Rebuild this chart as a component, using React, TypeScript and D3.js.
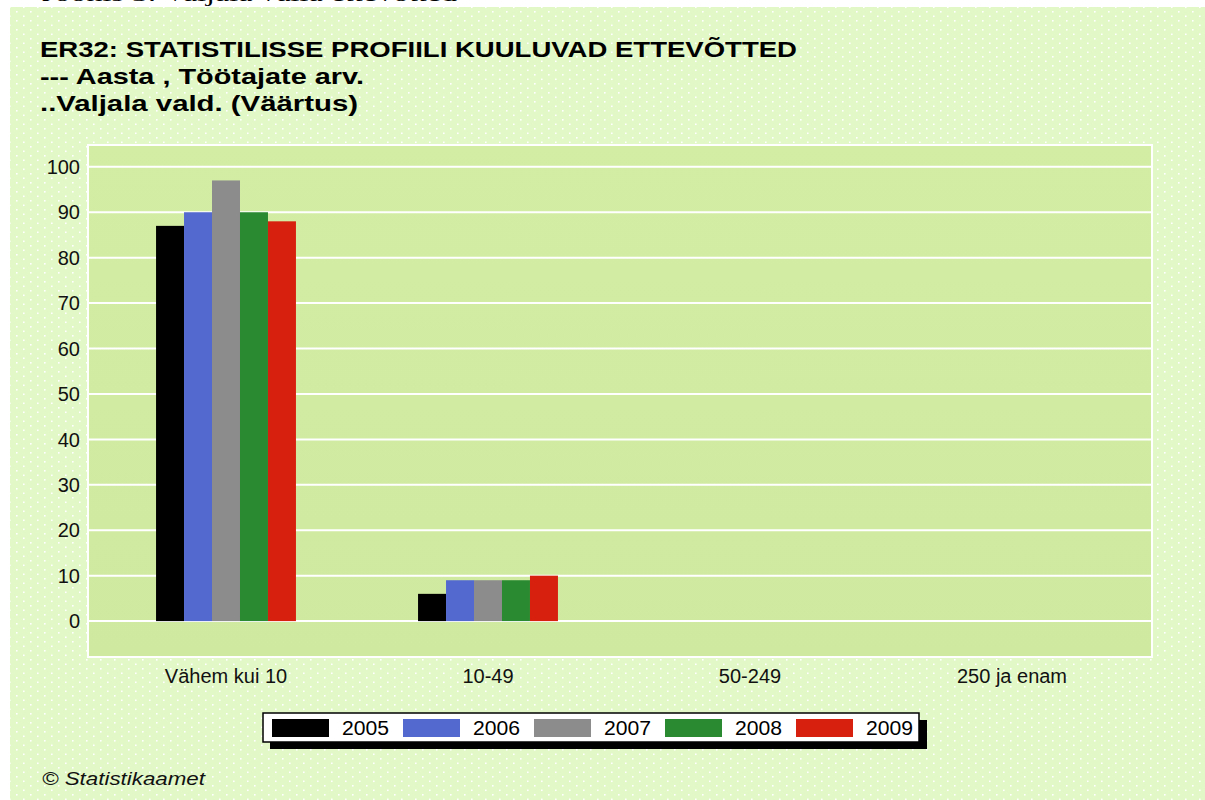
import React from 'react';
import * as d3 from 'd3';

const categories = ['Vähem kui 10', '10-49', '50-249', '250 ja enam'];
const years = ['2005', '2006', '2007', '2008', '2009'];
const values2005 = [87, 6, 0, 0];
const values2006 = [90, 9, 0, 0];
const values2007 = [97, 9, 0, 0];
const values2008 = [90, 9, 0, 0];
const values2009 = [88, 10, 0, 0];
const yTicks = [0, 10, 20, 30, 40, 50, 60, 70, 80, 90, 100];
const colors = ['#000000', '#5469d0', '#8c8c8c', '#2a8a32', '#d8200f'];
const titleLines = [
  'ER32: STATISTILISSE PROFIILI KUULUVAD ETTEVÕTTED',
  '--- Aasta , Töötajate arv.',
  '..Valjala vald. (Väärtus)',
];
// widths the title lines take in the reference
const titleWidths = [757, 324, 318];

const W = 1205;
const H = 800;
const plot = { left: 88, right: 1152, top: 145, bottom: 657 };

const App = () => {
  const series = [values2005, values2006, values2007, values2008, values2009];

  const y = d3.scaleLinear().domain([-7.9, 104.8]).range([plot.bottom, plot.top]);
  const x0 = d3.scaleBand().domain(categories).range([95, 1143]).paddingInner(0.466).paddingOuter(0.233);
  const x1 = d3.scaleBand().domain(years).range([0, x0.bandwidth()]);

  const font = '"Liberation Sans", Arial, sans-serif';

  return (
    <div style={{ position: 'absolute', left: 0, top: 0 }}>
      <svg width={W} height={H} style={{ display: 'block' }}>
        <defs>
          <pattern id="dots" width="14" height="9" patternUnits="userSpaceOnUse">
            <rect width="14" height="9" fill="#e2f8c6" />
            <rect x="2" y="2" width="1.6" height="1.6" fill="#ffffff" />
            <rect x="9" y="6.5" width="1.6" height="1.6" fill="#ffffff" />
          </pattern>
          <linearGradient id="plotfill" x1="0" y1="0" x2="0" y2="1">
            <stop offset="0" stopColor="#d3eda5" />
            <stop offset="1" stopColor="#cfe9a0" />
          </linearGradient>
        </defs>
        <rect width={W} height={H} fill="#ffffff" />
        {/* caption above the panel, cut off in the original too */}
        <text x={42} y={1} fontFamily="'Liberation Serif', serif" fontSize={22} fill="#000" textLength={415} lengthAdjust="spacingAndGlyphs">
          Joonis 3. Valjala valla ettevõtted
        </text>
        <rect x={10} y={7} width={W - 10} height={H - 7} fill="url(#dots)" />

        {titleLines.map((t, i) => (
          <text
            key={i}
            x={40}
            y={57 + i * 27}
            fontFamily={font}
            fontWeight="bold"
            fontSize={22}
            fill="#000"
            textLength={titleWidths[i]}
            lengthAdjust="spacingAndGlyphs"
          >
            {t}
          </text>
        ))}

        <rect
          x={plot.left}
          y={plot.top}
          width={plot.right - plot.left}
          height={plot.bottom - plot.top}
          fill="url(#plotfill)"
          stroke="#ffffff"
          strokeWidth={2}
        />
        {yTicks.map((t) => (
          <g key={t}>
            <line x1={plot.left} x2={plot.right} y1={y(t)} y2={y(t)} stroke="#ffffff" strokeWidth={2} />
            <text x={80} y={y(t)} dy="0.36em" textAnchor="end" fontFamily={font} fontSize={20} fill="#111">
              {t}
            </text>
          </g>
        ))}

        {categories.map((c, ci) => (
          <g key={c} transform={`translate(${x0(c)},0)`}>
            {years.map((yr, si) => {
              const v = series[si][ci];
              if (!v) return null;
              return (
                <rect
                  key={yr}
                  x={x1(yr)}
                  y={y(v)}
                  width={x1.bandwidth()}
                  height={y(0) - y(v)}
                  fill={colors[si]}
                />
              );
            })}
          </g>
        ))}

        {categories.map((c) => (
          <text
            key={c}
            x={(x0(c) || 0) + x0.bandwidth() / 2}
            y={676}
            dy="0.36em"
            textAnchor="middle"
            fontFamily={font}
            fontSize={20}
            fill="#111"
          >
            {c}
          </text>
        ))}

        {/* legend */}
        <rect x={270} y={720} width={657} height={29} fill="#000" />
        <rect x={263} y={713} width={656} height={29} fill="#ffffff" stroke="#000" strokeWidth={1.5} />
        {years.map((yr, i) => (
          <g key={yr} transform={`translate(${272 + i * 131},719)`}>
            <rect width={57} height={18} fill={colors[i]} />
            <text x={70} y={9} dy="0.36em" fontFamily={font} fontSize={20} fill="#000" textLength={47} lengthAdjust="spacingAndGlyphs">
              {yr}
            </text>
          </g>
        ))}

        <text x={42} y={785} fontFamily={font} fontStyle="italic" fontSize={19} fill="#111" textLength={163} lengthAdjust="spacingAndGlyphs">
          © Statistikaamet
        </text>
      </svg>
    </div>
  );
};

export default App;
